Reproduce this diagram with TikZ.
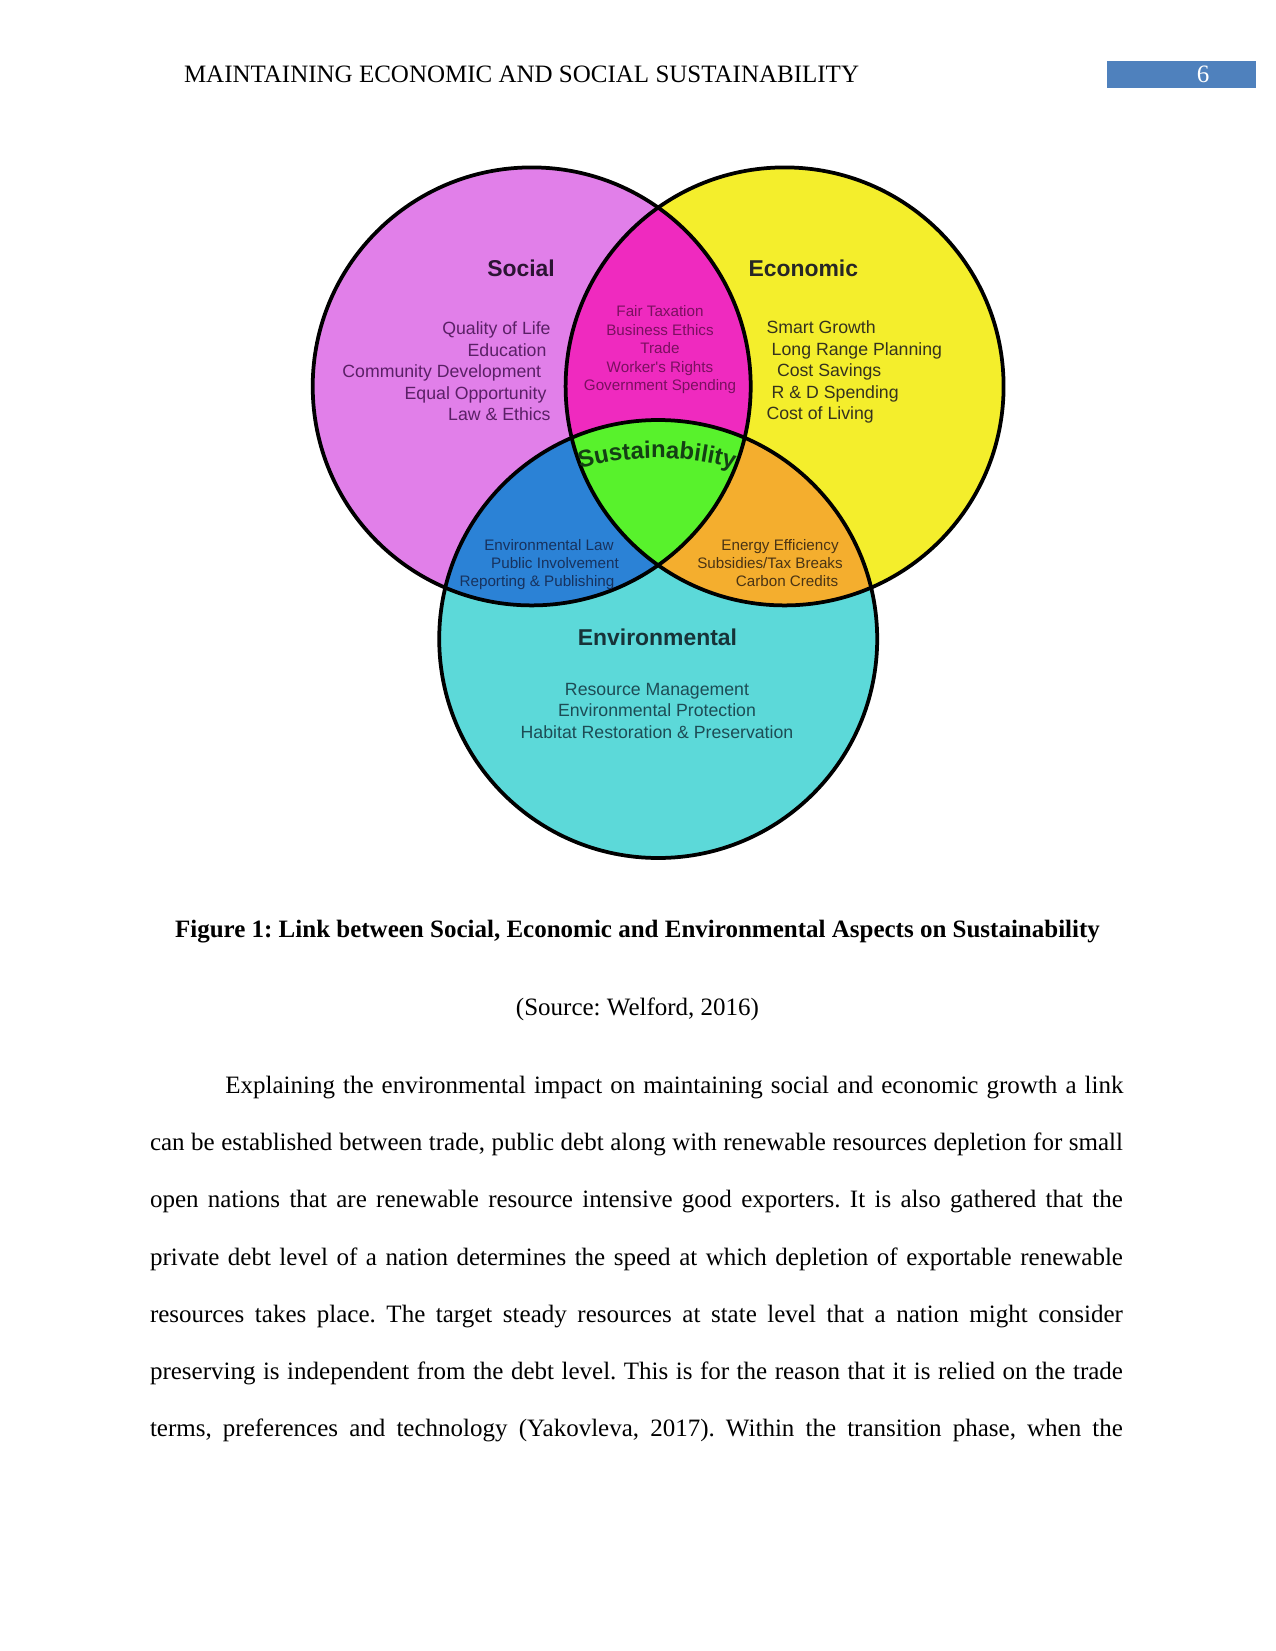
\documentclass[tikz,border=0pt]{standalone}
\usepackage{fontspec}
\setmainfont{Liberation Serif}
\newfontfamily\diagfont{Liberation Sans}
\usetikzlibrary{calc,decorations.text}
\frenchspacing
\definecolor{hdrblue}{HTML}{4F81BD}
\definecolor{socialc}{HTML}{E17FE9}
\definecolor{econc}{HTML}{F4EE2C}
\definecolor{magc}{HTML}{EF2ABF}
\definecolor{envc}{HTML}{5CD9D9}
\definecolor{bluec}{HTML}{2B82D6}
\definecolor{orangec}{HTML}{F4AE2E}
\definecolor{greenc}{HTML}{58F22C}
\definecolor{soctext}{HTML}{5A2066}
\definecolor{soctitle}{HTML}{2B1433}
\definecolor{econtext}{HTML}{35321E}
\definecolor{magtext}{HTML}{7A1060}
\definecolor{bluetext}{HTML}{17325E}
\definecolor{orangetext}{HTML}{4A3414}
\definecolor{envtext}{HTML}{1D4C55}
\definecolor{envtitle}{HTML}{173338}
\definecolor{susttext}{HTML}{143F14}
\begin{document}
\frenchspacing
\begin{tikzpicture}[x=0.48pt,y=-0.48pt,
  every node/.style={inner sep=0pt, outer sep=0pt},
  venn/.style={line width=1.8pt, draw=black},
  vtitle/.style={font=\diagfont\bfseries\fontsize{11}{13}\selectfont, anchor=base},
  vitem/.style={font=\diagfont\fontsize{8.5}{10}\selectfont},
  vsmall/.style={font=\diagfont\fontsize{7.3}{9}\selectfont, anchor=base},
  bodyline/.style={font=\fontsize{12}{14}\selectfont\frenchspacing, anchor=base west},
  capline/.style={font=\fontsize{12}{14}\selectfont\frenchspacing, anchor=base},
]
\useasboundingbox (0,0) rectangle (1275,1651);
\fill[white] (0,0) rectangle (1275,1651);

% header
\node[bodyline] (hdr) at (184,83) {MAINTAINING ECONOMIC AND SOCIAL SUSTAINABILITY};
\fill[hdrblue] (1107,61) rectangle (1256,88.5);
\node[capline, text=white] (pgno) at (1203,82.5) {6};

% circles
\coordinate (S) at (531.7,386.4);
\coordinate (Ec) at (784.6,386.4);
\coordinate (En) at (658.2,639);
\def\R{219}
\fill[socialc] (S) circle[radius=\R];
\fill[econc] (Ec) circle[radius=\R];
\fill[envc] (En) circle[radius=\R];
\begin{scope}
  \clip (S) circle[radius=\R];
  \fill[magc] (Ec) circle[radius=\R];
  \fill[bluec] (En) circle[radius=\R];
\end{scope}
\begin{scope}
  \clip (Ec) circle[radius=\R];
  \fill[orangec] (En) circle[radius=\R];
\end{scope}
\begin{scope}
  \clip (S) circle[radius=\R];
  \clip (Ec) circle[radius=\R];
  \fill[greenc] (En) circle[radius=\R];
\end{scope}
\draw[venn] (S) circle[radius=\R];
\draw[venn] (Ec) circle[radius=\R];
\draw[venn] (En) circle[radius=\R];

% titles
\node[vtitle, text=soctitle] (tsoc) at (521,276.7) {Social};
\node[vtitle, text=black!85] (teco) at (803.3,276.7) {Economic};
\node[vtitle, text=envtitle] (tenv) at (657.5,645.5) {Environmental};

% social items
\begin{scope}[every node/.append style={vitem, anchor=base east, text=soctext}]
\node (s1) at (550.6,334.5) {Quality of Life};
\node (s2) at (546.4,356.1) {Education};
\node (s3) at (541.2,377.7) {Community Development};
\node (s4) at (546.4,399.3) {Equal Opportunity};
\node (s5) at (550.6,420.9) {Law \& Ethics};
\end{scope}

% economic items
\begin{scope}[every node/.append style={vitem, anchor=base west, text=econtext}]
\node (e1) at (766.5,333.5) {Smart Growth};
\node (e2) at (771.7,355.1) {Long Range Planning};
\node (e3) at (777,376.7) {Cost Savings};
\node (e4) at (771.7,398.3) {R \& D Spending};
\node (e5) at (766.5,419.9) {Cost of Living};
\end{scope}

% social-economic
\begin{scope}[every node/.append style={vsmall, text=magtext}]
\node (m1) at (660,316.8) {Fair Taxation};
\node (m2) at (660,335.2) {Business Ethics};
\node (m3) at (660,353.6) {Trade};
\node (m4) at (660,372.0) {Worker's Rights};
\node (m5) at (660,390.4) {Government Spending};
\end{scope}

% social-environmental
\begin{scope}[every node/.append style={vsmall, text=bluetext}]
\node (b1) at (549,550) {Environmental Law};
\node (b2) at (555,568.4) {Public Involvement};
\node (b3) at (537,586.8) {Reporting \& Publishing};
\end{scope}

% economic-environmental
\begin{scope}[every node/.append style={vsmall, text=orangetext}]
\node (o1) at (780,550) {Energy Efficiency};
\node (o2) at (770,568.4) {Subsidies/Tax Breaks};
\node (o3) at (787,586.8) {Carbon Credits};
\end{scope}

% environmental items
\begin{scope}[every node/.append style={vitem, anchor=base, text=envtext}]
\node (v1) at (657,695) {Resource Management};
\node (v2) at (657,716.5) {Environmental Protection};
\node (v3) at (657,738) {Habitat Restoration \& Preservation};
\end{scope}

% sustainability arc text
\coordinate (arcc) at (657,738);
\path[decorate, decoration={text along path, text align=center,
  text={|\diagfont\bfseries\fontsize{11.5}{13}\selectfont\color{susttext}|Sustainability}}]
  ($(arcc)+(250:280)$) arc[start angle=250, end angle=290, radius=280];

% caption
\node[capline, font=\bfseries\fontsize{12}{14}\selectfont\frenchspacing] (cap) at (637.5,937.5) {Figure 1: Link between Social, Economic and Environmental Aspects on Sustainability};
\node[capline] (src) at (637.5,1015) {(Source: Welford, 2016)};

% body
\node[bodyline] (l1) at (225.3,1093.5) {\makebox[431.1pt][s]{Explaining the environmental impact on maintaining social and economic growth a link}};
\node[bodyline] (l2) at (150,1150.7) {\makebox[467pt][s]{can be established between trade, public debt along with renewable resources depletion for small}};
\node[bodyline] (l3) at (150,1207.9) {\makebox[467pt][s]{open nations that are renewable resource intensive good exporters. It is also gathered that the}};
\node[bodyline] (l4) at (150,1265.1) {\makebox[467pt][s]{private debt level of a nation determines the speed at which depletion of exportable renewable}};
\node[bodyline] (l5) at (150,1322.3) {\makebox[467pt][s]{resources takes place. The target steady resources at state level that a nation might consider}};
\node[bodyline] (l6) at (150,1379.5) {\makebox[467pt][s]{preserving is independent from the debt level. This is for the reason that it is relied on the trade}};
\node[bodyline] (l7) at (150,1436.7) {\makebox[467pt][s]{terms, preferences and technology (Yakovleva, 2017). Within the transition phase, when the}};
\end{tikzpicture}
\end{document}
